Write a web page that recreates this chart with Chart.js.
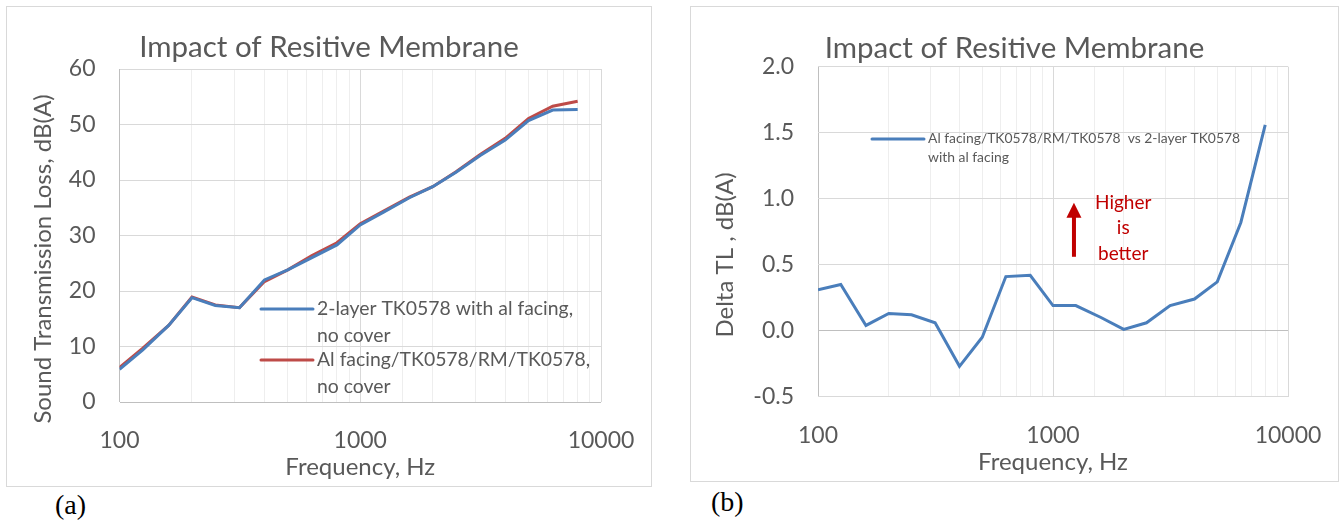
<!DOCTYPE html>
<html>
<head>
<meta charset="utf-8">
<title>Impact of Resitive Membrane</title>
<script src="https://cdn.jsdelivr.net/npm/chart.js@4.4.1/dist/chart.umd.min.js"></script>
<style>
  body { margin: 0; background: #ffffff; width: 1344px; height: 523px; position: relative; overflow: hidden; }
  .box { position: absolute; border: 1px solid #d9d9d9; background: #ffffff; }
  .box canvas { position: absolute; left: 0; top: 0; }
  .tag { position: absolute; font-family: "Liberation Serif", "DejaVu Serif", serif; font-size: 28px; color: #000000; line-height: 1; }
</style>
</head>
<body>
<div class="box" style="left:6px; top:6px; width:644px; height:479px;">
  <canvas id="chartA" width="644" height="479" style="width:644px;height:479px;"></canvas>
</div>
<div class="box" style="left:690px; top:6px; width:647px; height:474px;">
  <canvas id="chartB" width="647" height="474" style="width:647px;height:474px;"></canvas>
</div>
<div class="tag" style="left:55px; top:491px;">(a)</div>
<div class="tag" style="left:711px; top:488px;">(b)</div>

<script>
// 1/3 octave band centre frequencies, Hz
const frequencies = [100, 125, 160, 200, 250, 315, 400, 500, 630, 800, 1000, 1250, 1600, 2000, 2500, 3150, 4000, 5000, 6300, 8000];

// chart (a): sound transmission loss, dB(A)
const twoLayerTL = [5.9, 9.4, 13.8, 18.8, 17.4, 17.0, 22.0, 23.8, 26.0, 28.3, 31.9, 34.2, 36.8, 38.8, 41.4, 44.4, 47.2, 50.7, 52.6, 52.7];
const membraneTL = [6.2, 9.7, 13.8, 18.9, 17.5, 17.0, 21.7, 23.8, 26.4, 28.7, 32.1, 34.4, 36.9, 38.8, 41.5, 44.6, 47.5, 51.1, 53.3, 54.2];

// chart (b): delta TL, dB(A)
const deltaTL = [0.31, 0.35, 0.04, 0.13, 0.12, 0.06, -0.27, -0.05, 0.41, 0.42, 0.19, 0.19, 0.10, 0.01, 0.06, 0.19, 0.24, 0.37, 0.82, 1.56];

// legend text, split in lines like the original
const twoLayerName = ['2-layer TK0578 with al facing,', 'no cover'];
const membraneName = ['Al facing/TK0578/RM/TK0578,', 'no cover'];
const deltaName = ['Al facing/TK0578/RM/TK0578  vs 2-layer TK0578', 'with al facing'];

// axis ticks
const freqLabels = [100, 1000, 10000];
const tlTicks = [0, 10, 20, 30, 40, 50, 60];
const deltaTicks = [-0.5, 0.0, 0.5, 1.0, 1.5, 2.0];

const chartTitle = 'Impact of Resitive Membrane';
const grey = '#595959';
const blue = '#4a7ebb';
const red = '#be4b48';
const fontFamily = 'Lato, "Open Sans", sans-serif';

// draws the y axis title (offset like in excel), the legend inside the plot and the note
const extrasPlugin = {
    id: 'extras',
    afterDraw(chart, args, opts) {
        const ctx = chart.ctx;
        ctx.save();
        // y axis title
        ctx.translate(opts.yTitle.x, opts.yTitle.y);
        ctx.rotate(-Math.PI / 2);
        ctx.fillStyle = grey;
        ctx.font = opts.yTitle.size + 'px ' + fontFamily;
        ctx.textAlign = 'center';
        ctx.textBaseline = 'middle';
        ctx.fillText(opts.yTitle.text, 0, 0);
        ctx.restore();

        // legend entries
        opts.legend.forEach(item => {
            ctx.save();
            ctx.strokeStyle = item.color;
            ctx.lineWidth = 3;
            ctx.lineCap = 'round';
            ctx.beginPath();
            ctx.moveTo(item.x, item.y);
            ctx.lineTo(item.x + item.len, item.y);
            ctx.stroke();
            ctx.fillStyle = grey;
            ctx.font = item.size + 'px ' + fontFamily;
            ctx.textAlign = 'left';
            ctx.textBaseline = 'middle';
            item.lines.forEach((line, i) => {
                ctx.fillText(line, item.x + item.len + 4, item.y + i * item.lineHeight);
            });
            ctx.restore();
        });

        // "higher is better" arrow, placed in data coordinates
        if (opts.note) {
            const xs = chart.scales.x;
            const ys = chart.scales.y;
            const ax = xs.getPixelForValue(opts.note.arrowFreq);
            const top = ys.getPixelForValue(opts.note.arrowTop);
            const bottom = ys.getPixelForValue(opts.note.arrowBottom);
            ctx.save();
            ctx.fillStyle = '#c00000';
            ctx.fillRect(ax - 2, top + 14, 4, bottom - top - 14);
            ctx.beginPath();
            ctx.moveTo(ax, top);
            ctx.lineTo(ax - 7.5, top + 15);
            ctx.lineTo(ax + 7.5, top + 15);
            ctx.closePath();
            ctx.fill();
            ctx.font = '19px ' + fontFamily;
            ctx.textAlign = 'center';
            ctx.textBaseline = 'middle';
            const tx = xs.getPixelForValue(opts.note.textFreq);
            const ty = ys.getPixelForValue(opts.note.textTop);
            opts.note.lines.forEach((line, i) => {
                ctx.fillText(line, tx, ty + i * 25.5);
            });
            ctx.restore();
        }
    }
};

function freqAxis(plotBottomGap) {
    return {
        type: 'logarithmic',
        min: 100,
        max: 10000,
        afterFit(scale) {
            scale.height = plotBottomGap;
            scale.paddingLeft = 0;
            scale.paddingRight = 50; // free space right of the plot
        },
        afterBuildTicks(scale) {
            // keep the 1..9 ticks of each decade for the grid
            scale.ticks = scale.ticks.filter(t => t.value >= 100 && t.value <= 10000);
        },
        ticks: {
            autoSkip: false,
            maxRotation: 0,
            padding: 25,
            color: grey,
            font: { family: fontFamily, size: 23 },
            callback: value => freqLabels.includes(value) ? String(value) : ''
        },
        grid: {
            drawTicks: false,
            color: ctx => {
                const v = ctx.tick ? ctx.tick.value : 0;
                if (v === 100) return '#bfbfbf';
                return freqLabels.includes(v) ? '#d9d9d9' : '#eeeeee';
            }
        },
        border: { display: false },
        title: {
            display: true,
            text: 'Frequency, Hz',
            color: grey,
            font: { family: fontFamily, size: 24 },
            padding: { top: 0, bottom: 4.6 }
        }
    };
}

function valueAxis(width, min, max, step, ticks, zeroColor, digits) {
    return {
        min: min,
        max: max,
        afterFit(scale) {
            scale.width = width;
            scale.paddingTop = 0;
            scale.paddingBottom = 0;
        },
        afterBuildTicks(scale) {
            scale.ticks = ticks.map(v => ({ value: v }));
        },
        ticks: {
            stepSize: step,
            padding: 24,
            color: grey,
            font: { family: fontFamily, size: 23 },
            callback: value => Number(value).toFixed(digits)
        },
        grid: {
            drawTicks: false,
            color: ctx => (ctx.tick && ctx.tick.value === 0) ? zeroColor : '#d9d9d9'
        },
        border: { display: false }
    };
}

function titleOptions(padTop, padBottom) {
    return {
        display: true,
        text: chartTitle,
        color: grey,
        font: { family: fontFamily, size: 29.5, weight: 'normal', lineHeight: 1.2 },
        padding: { top: padTop, bottom: padBottom }
    };
}

// chart (a)
new Chart(document.getElementById('chartA'), {
    type: 'line',
    data: {
        datasets: [{
            label: twoLayerName.join(' '),
            data: frequencies.map((f, i) => ({ x: f, y: twoLayerTL[i] })),
            borderColor: blue,
            borderWidth: 3,
            pointRadius: 0,
            tension: 0
        }, {
            label: membraneName.join(' '),
            data: frequencies.map((f, i) => ({ x: f, y: membraneTL[i] })),
            borderColor: red,
            borderWidth: 3,
            pointRadius: 0,
            tension: 0
        }]
    },
    options: {
        responsive: false,
        animation: false,
        layout: { padding: 0 },
        scales: {
            x: freqAxis(84),
            y: valueAxis(112.5, 0, 60, 10, tlTicks, '#bfbfbf', 0)
        },
        plugins: {
            legend: { display: false },
            tooltip: { enabled: false },
            title: titleOptions(22.3, 4.3),
            extras: {
                yTitle: { text: 'Sound Transmission Loss, dB(A)', x: 36, y: 252, size: 24 },
                legend: [
                    { color: blue, x: 254, y: 302, len: 52, lines: twoLayerName, size: 19.4, lineHeight: 26.5 },
                    { color: red, x: 254, y: 353, len: 52, lines: membraneName, size: 19.4, lineHeight: 26.5 }
                ]
            }
        }
    },
    plugins: [extrasPlugin]
});

// chart (b)
new Chart(document.getElementById('chartB'), {
    type: 'line',
    data: {
        datasets: [{
            label: deltaName.join(' '),
            data: frequencies.map((f, i) => ({ x: f, y: deltaTL[i] })),
            borderColor: blue,
            borderWidth: 3,
            pointRadius: 0,
            tension: 0
        }]
    },
    options: {
        responsive: false,
        animation: false,
        layout: { padding: 0 },
        scales: {
            x: freqAxis(84.3),
            y: valueAxis(127, -0.5, 2.0, 0.5, deltaTicks, '#bfbfbf', 1)
        },
        plugins: {
            legend: { display: false },
            tooltip: { enabled: false },
            title: titleOptions(23.6, 0.7),
            extras: {
                yTitle: { text: 'Delta TL , dB(A)', x: 34, y: 248, size: 24 },
                legend: [
                    { color: blue, x: 181, y: 132, len: 52, lines: deltaName, size: 13.9, lineHeight: 19 }
                ],
                note: {
                    arrowFreq: 1228, arrowTop: 0.97, arrowBottom: 0.56,
                    textFreq: 1990, textTop: 0.97, lines: ['Higher', 'is', 'better']
                }
            }
        }
    },
    plugins: [extrasPlugin]
});
</script>
</body>
</html>
